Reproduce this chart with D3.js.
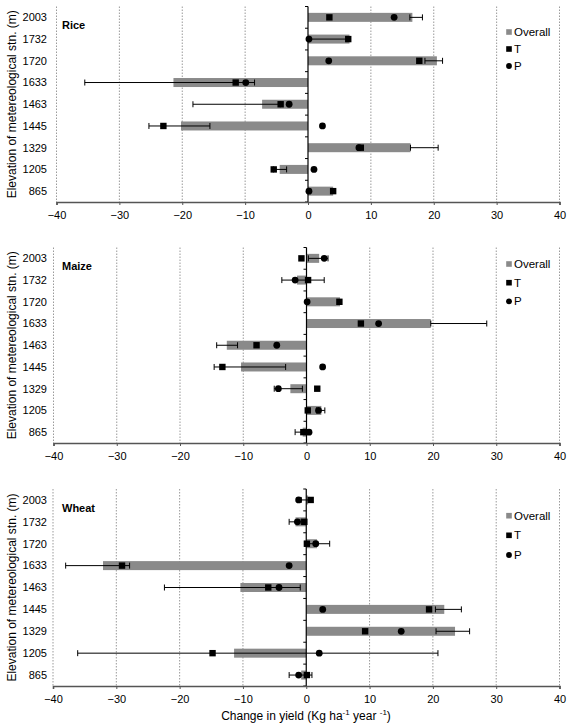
<!DOCTYPE html>
<html><head><meta charset="utf-8">
<script src="https://cdn.jsdelivr.net/npm/d3@7"></script>
<style>body{margin:0;background:#fff}svg{display:block;font-family:"Liberation Sans",Arial,sans-serif}</style>
</head><body>
<svg id="chart" width="568" height="725"></svg>
<script>
// ---- data ----
const elevations = ["2003","1732","1720","1633","1463","1445","1329","1205","865"];
const xTicks = [-40,-30,-20,-10,0,10,20,30,40];
const cropNames = ["Rice","Maize","Wheat"];

const riceOverall = [16.6, 6.6, 20.5, -21.4, -7.3, -20.2, 16.3, -4.5, 4.0];
const riceT       = [3.4, 6.4, 17.7, -11.5, -4.35, -23.0, 8.4, -5.45, 4.0];
const riceP       = [13.7, 0.15, 3.3, -9.9, -3.0, 2.3, 8.1, 0.95, 0.15];
const riceErrLo   = [16.2, 0.2, 18.6, -35.5, -18.3, -25.3, 16.3, -5.5, null];
const riceErrHi   = [18.2, 6.2, 21.4, -8.5, -4.4, -15.6, 20.7, -3.4, null];

const maizeOverall = [2.0, -1.5, 5.3, 19.65, -12.6, -10.35, -2.55, 2.35, -0.6];
const maizeT       = [-0.8, 0.25, 5.2, 8.6, -7.9, -13.3, 1.7, 0.2, -0.5];
const maizeP       = [2.8, -1.8, 0.1, 11.4, -4.7, 2.55, -4.45, 1.9, 0.4];
const maizeErrLo   = [0.3, -3.9, null, 19.65, -14.2, -14.6, -5.1, 1.6, -1.8];
const maizeErrHi   = [3.4, 2.8, null, 28.5, -10.9, -3.3, -0.65, 2.9, 0.1];

const wheatOverall = [0.3, -1.7, 1.7, -32.1, -10.4, 21.8, 23.5, -11.4, -0.8];
const wheatT       = [0.7, -0.3, 0.1, -29.1, -6.0, 19.4, 9.3, -14.8, 0.1];
const wheatP       = [-1.2, -1.4, 1.5, -2.7, -4.3, 2.6, 15.0, 2.05, -1.2];
const wheatErrLo   = [-0.8, -2.7, -0.2, -38.0, -22.4, 20.4, 20.5, -36.1, -2.7];
const wheatErrHi   = [0.5, -0.8, 3.7, -27.9, -0.95, 24.5, 25.8, 20.8, 0.9];

const legendLabels = ["Overall","T","P"];

// ---- layout ----
const panels = [
  {name:cropNames[0], overall:riceOverall, t:riceT, p:riceP, lo:riceErrLo, hi:riceErrHi,
   top:6.5, bottom:202, x0:56.5, x1:559.5, legY:[32,49,66]},
  {name:cropNames[1], overall:maizeOverall, t:maizeT, p:maizeP, lo:maizeErrLo, hi:maizeErrHi,
   top:247.5, bottom:443, x0:53.5, x1:559.5, legY:[264,282.7,301.3]},
  {name:cropNames[2], overall:wheatOverall, t:wheatT, p:wheatP, lo:wheatErrLo, hi:wheatErrHi,
   top:489, bottom:686, x0:53, x1:559.5, legY:[515.7,535.3,555]}
];

const svg = d3.select("#chart");
const barColor = "#8a8a8a";

panels.forEach(pn => {
  const g = svg.append("g");
  const x = d3.scaleLinear().domain([-40,40]).range([pn.x0, pn.x1]);
  const y = d3.scaleBand().domain(elevations).range([pn.top, pn.bottom]).padding(0);
  const yc = e => y(e) + y.bandwidth()/2;
  const rows = elevations.map((e,i)=>({e, ov:pn.overall[i], t:pn.t[i], p:pn.p[i], lo:pn.lo[i], hi:pn.hi[i]}));

  // gridlines
  g.selectAll(".grid").data(xTicks.filter(d=>d!==0)).enter().append("line")
    .attr("x1", d=>x(d)).attr("x2", d=>x(d)).attr("y1", pn.top).attr("y2", pn.bottom)
    .attr("stroke","#9a9a9a").attr("stroke-width",1).attr("stroke-dasharray","1.5,1.5");

  // bars
  g.selectAll(".bar").data(rows).enter().append("rect")
    .attr("x", d=>x(Math.min(0,d.ov))).attr("width", d=>Math.abs(x(d.ov)-x(0)))
    .attr("y", d=>yc(d.e)-4.5).attr("height", 9).attr("fill", barColor);

  // error bars
  const eb = rows.filter(d=>d.lo!==null);
  g.selectAll(".eline").data(eb).enter().append("line")
    .attr("x1", d=>x(d.lo)).attr("x2", d=>x(d.hi)).attr("y1", d=>yc(d.e)).attr("y2", d=>yc(d.e))
    .attr("stroke","#000").attr("stroke-width",1);
  eb.forEach(d => {
    [d.lo, d.hi].forEach(v => {
      g.append("line").attr("x1", x(v)).attr("x2", x(v)).attr("y1", yc(d.e)-3).attr("y2", yc(d.e)+3)
        .attr("stroke","#000").attr("stroke-width",1);
    });
  });

  // zero (category) axis
  g.append("line").attr("x1", x(0)).attr("x2", x(0)).attr("y1", pn.top).attr("y2", pn.bottom)
    .attr("stroke","#000").attr("stroke-width",1.2);
  g.selectAll(".ytk").data(d3.range(elevations.length+1)).enter().append("line")
    .attr("x1", x(0)-3).attr("x2", x(0)).attr("y1", i=>pn.top + i*y.bandwidth()).attr("y2", i=>pn.top + i*y.bandwidth())
    .attr("stroke","#000").attr("stroke-width",1);

  // markers
  g.selectAll(".tm").data(rows).enter().append("rect")
    .attr("x", d=>x(d.t)-3.2).attr("y", d=>yc(d.e)-3.2).attr("width",6.4).attr("height",6.4).attr("fill","#000");
  g.selectAll(".pm").data(rows).enter().append("circle")
    .attr("cx", d=>x(d.p)).attr("cy", d=>yc(d.e)).attr("r",3.4).attr("fill","#000");

  // x axis
  const xAxis = d3.axisBottom(x).tickValues(xTicks).tickSize(3).tickPadding(6).tickFormat(d3.format("d"));
  const ax = g.append("g").attr("transform", `translate(0,${pn.bottom})`).call(xAxis);
  ax.select(".domain").attr("stroke","#555").attr("stroke-width",1.6);
  ax.selectAll(".tick line").attr("stroke","#555");
  ax.selectAll("text").attr("font-size",11).attr("fill","#000").attr("font-family","Liberation Sans, Arial, sans-serif");

  // y labels
  g.selectAll(".ylab").data(elevations).enter().append("text")
    .attr("x", 47).attr("y", d=>yc(d)).attr("dy","0.35em").attr("text-anchor","end")
    .attr("font-size",11).text(d=>d);

  // y title
  g.append("text").attr("transform", `translate(16,${(pn.top+pn.bottom)/2}) rotate(-90)`)
    .attr("text-anchor","middle").attr("font-size",12).text("Elevation of metereological stn. (m)");

  // panel title
  g.append("text").attr("x", 62).attr("y", yc(elevations[0]) + 12).attr("font-size",11).attr("font-weight","bold")
    .text(pn.name);

  // legend
  const lx = 509;
  g.append("rect").attr("x", lx-2.8).attr("y", pn.legY[0]-2.8).attr("width",5.6).attr("height",5.6).attr("fill", barColor);
  g.append("rect").attr("x", lx-2.8).attr("y", pn.legY[1]-2.8).attr("width",5.6).attr("height",5.6).attr("fill","#000");
  g.append("circle").attr("cx", lx).attr("cy", pn.legY[2]).attr("r",2.9).attr("fill","#000");
  legendLabels.forEach((l,i)=>{
    g.append("text").attr("x", lx+5).attr("y", pn.legY[i]).attr("dy","0.35em").attr("font-size",11.5).text(l);
  });
});

// x title
const xt = svg.append("text").attr("x", 306).attr("y", 720).attr("text-anchor","middle").attr("font-size",12);
xt.append("tspan").text("Change in yield (Kg ha");
xt.append("tspan").attr("font-size",8).attr("dy",-5).text("-1");
xt.append("tspan").attr("dy",5).text(" year ");
xt.append("tspan").attr("font-size",8).attr("dy",-5).text("-1");
xt.append("tspan").attr("dy",5).text(")");
</script>
</body></html>
